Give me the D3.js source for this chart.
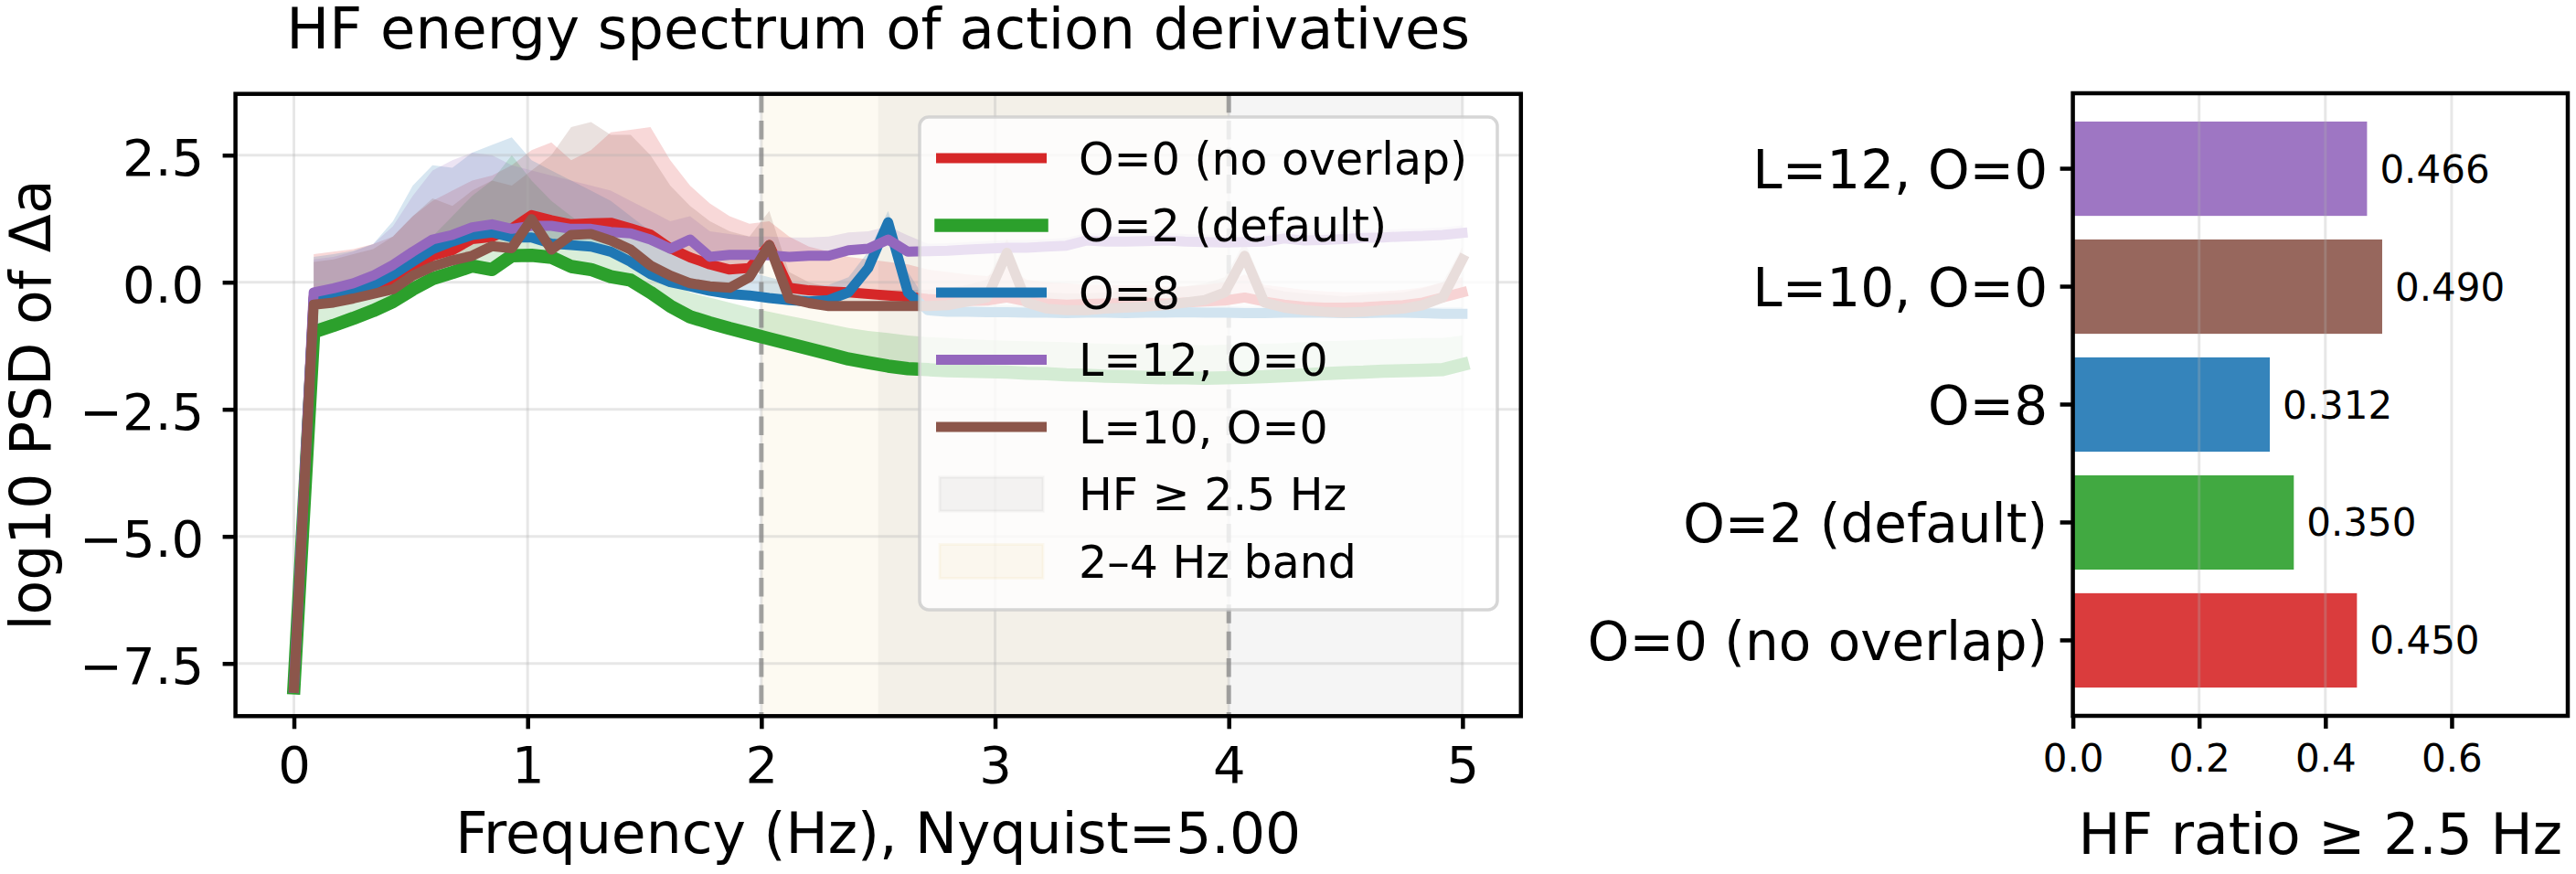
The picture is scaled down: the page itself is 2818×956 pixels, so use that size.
<!DOCTYPE html>
<html><head><meta charset="utf-8">
<script src="https://cdn.jsdelivr.net/npm/d3@7/dist/d3.min.js"></script>
<style>body{margin:0;background:#fff} text{font-family:"DejaVu Sans",sans-serif}</style>
</head><body><svg id="c" width="2818" height="956"></svg>
<script>
// ---------- data ----------
const freqHz = [0, 0.0847, 0.1695, 0.2542, 0.339, 0.4237, 0.5085, 0.5932, 0.678, 0.7627, 0.8475, 0.9322, 1.0169, 1.1017, 1.1864, 1.2712, 1.3559, 1.4407, 1.5254, 1.6102, 1.6949, 1.7797, 1.8644, 1.9492, 2.0339, 2.1186, 2.2034, 2.2881, 2.3729, 2.4576, 2.5424, 2.6271, 2.7119, 2.7966, 2.8814, 2.9661, 3.0508, 3.1356, 3.2203, 3.3051, 3.3898, 3.4746, 3.5593, 3.6441, 3.7288, 3.8136, 3.8983, 3.9831, 4.0678, 4.1525, 4.2373, 4.322, 4.4068, 4.4915, 4.5763, 4.661, 4.7458, 4.8305, 4.9153, 5.0];

const seriesNames = ["O=0 (no overlap)", "O=2 (default)", "O=8", "L=12, O=0", "L=10, O=0"];
const seriesColors = ["#d62728", "#2ca02c", "#1f77b4", "#9467bd", "#8c564b"];

const psdO0 = [-7.98, -0.29, -0.25, -0.17, -0.08, 0.04, 0.28, 0.52, 0.63, 0.85, 0.89, 1.06, 1.32, 1.22, 1.14, 1.16, 1.17, 1.06, 0.94, 0.67, 0.49, 0.35, 0.25, 0.28, 0.73, -0.11, -0.16, -0.18, -0.2, -0.23, -0.26, -0.29, -0.33, -0.35, -0.37, -0.36, -0.3, -0.38, -0.42, -0.44, -0.43, -0.42, -0.41, -0.4, -0.42, -0.4, -0.38, -0.36, -0.3, -0.38, -0.44, -0.48, -0.5, -0.5, -0.49, -0.47, -0.45, -0.4, -0.3, -0.2];
const psdO2 = [-7.98, -0.98, -0.85, -0.71, -0.56, -0.38, -0.14, 0.07, 0.19, 0.32, 0.25, 0.52, 0.53, 0.49, 0.31, 0.25, 0.11, 0.04, -0.2, -0.47, -0.68, -0.8, -0.91, -1.01, -1.11, -1.21, -1.31, -1.41, -1.51, -1.58, -1.65, -1.7, -1.72, -1.74, -1.75, -1.76, -1.77, -1.79, -1.8, -1.82, -1.83, -1.85, -1.86, -1.87, -1.88, -1.88, -1.89, -1.88, -1.87, -1.86, -1.84, -1.82, -1.8, -1.78, -1.77, -1.75, -1.74, -1.73, -1.72, -1.62];
const psdO8 = [-7.98, -0.32, -0.25, -0.17, -0.05, 0.15, 0.4, 0.65, 0.8, 0.93, 0.98, 0.88, 0.88, 0.76, 0.73, 0.7, 0.6, 0.4, 0.16, 0.0, -0.08, -0.17, -0.23, -0.26, -0.31, -0.35, -0.38, -0.35, -0.2, 0.28, 1.18, -0.2, -0.55, -0.58, -0.58, -0.59, -0.59, -0.6, -0.6, -0.61, -0.6, -0.6, -0.61, -0.6, -0.6, -0.59, -0.6, -0.6, -0.61, -0.61, -0.6, -0.6, -0.6, -0.61, -0.61, -0.6, -0.6, -0.61, -0.62, -0.62];
const psdL12 = [-7.98, -0.2, -0.12, -0.02, 0.13, 0.34, 0.6, 0.84, 0.93, 1.08, 1.14, 1.05, 1.11, 1.11, 1.05, 1.05, 0.99, 0.96, 0.84, 0.66, 0.84, 0.5, 0.54, 0.54, 0.53, 0.5, 0.52, 0.52, 0.63, 0.66, 0.84, 0.6, 0.61, 0.62, 0.64, 0.66, 0.68, 0.68, 0.7, 0.72, 0.82, 0.8, 0.8, 0.81, 0.82, 0.8, 0.79, 0.78, 0.79, 0.8, 0.86, 0.82, 0.83, 0.85, 0.87, 0.88, 0.9, 0.91, 0.93, 0.97];
const psdL10 = [-7.98, -0.44, -0.4, -0.32, -0.23, -0.14, 0.13, 0.31, 0.43, 0.52, 0.71, 0.67, 1.24, 0.64, 0.93, 0.95, 0.82, 0.64, 0.33, 0.13, -0.02, -0.08, -0.11, 0.1, 0.73, -0.32, -0.41, -0.47, -0.47, -0.47, -0.47, -0.47, -0.47, -0.45, -0.38, -0.3, 0.58, -0.4, -0.52, -0.55, -0.55, -0.52, -0.5, -0.48, -0.45, -0.4, -0.35, -0.2, 0.52, -0.4, -0.5, -0.55, -0.58, -0.6, -0.58, -0.55, -0.52, -0.45, -0.3, 0.45];

// upper edge of each spread band (first bin has no band)
const hiO0 = [null, 0.55, 0.6, 0.65, 0.75, 0.9, 1.3, 1.6, 1.8, 2.0, 2.1, 2.3, 2.6, 2.75, 2.4, 2.6, 2.95, 3.0, 3.05, 2.4, 1.9, 1.55, 1.3, 1.15, 1.2, 0.9, 0.7, 0.6, 0.5, 0.45, 0.4, 0.35, 0.25, 0.2, 0.15, 0.12, 0.3, 0.05, 0.0, -0.02, -0.05, -0.05, -0.06, -0.05, -0.08, -0.08, -0.05, 0.0, 0.15, -0.05, -0.1, -0.15, -0.18, -0.2, -0.2, -0.18, -0.15, -0.1, 0.0, 0.1];
const hiO2 = [null, -0.45, -0.35, -0.25, -0.1, 0.1, 0.5, 0.9, 1.3, 1.7, 2.0, 2.5, 2.0, 1.6, 1.3, 1.0, 0.8, 0.6, 0.3, 0.0, -0.2, -0.3, -0.4, -0.5, -0.58, -0.66, -0.74, -0.82, -0.9, -0.96, -1.0, -1.05, -1.08, -1.1, -1.12, -1.14, -1.15, -1.16, -1.17, -1.18, -1.2, -1.21, -1.22, -1.22, -1.23, -1.23, -1.24, -1.23, -1.22, -1.21, -1.2, -1.18, -1.16, -1.15, -1.14, -1.12, -1.11, -1.1, -1.1, -1.05];
const hiO8 = [null, 0.5, 0.55, 0.62, 0.75, 1.2, 1.9, 2.3, 2.25, 2.55, 2.7, 2.85, 2.4, 2.2, 2.0, 1.8, 1.6, 1.3, 1.0, 0.7, 0.5, 0.4, 0.3, 0.2, 0.1, 0.0, -0.05, -0.05, 0.1, 0.6, 1.4, 0.2, -0.4, -0.44, -0.45, -0.46, -0.46, -0.47, -0.47, -0.48, -0.47, -0.47, -0.48, -0.47, -0.47, -0.46, -0.47, -0.47, -0.48, -0.48, -0.47, -0.47, -0.47, -0.48, -0.48, -0.47, -0.47, -0.48, -0.49, -0.49];
const hiL12 = [null, 0.45, 0.5, 0.6, 0.75, 1.1, 1.7, 2.2, 2.4, 2.55, 2.5, 2.3, 2.2, 2.1, 2.0, 1.9, 1.8, 1.6, 1.4, 1.2, 1.3, 1.0, 0.95, 0.9, 0.9, 0.88, 0.88, 0.9, 0.98, 1.0, 1.1, 0.92, 0.76, 0.77, 0.79, 0.81, 0.83, 0.83, 0.85, 0.87, 0.97, 0.95, 0.95, 0.96, 0.97, 0.95, 0.94, 0.93, 0.94, 0.95, 1.01, 0.97, 0.98, 1.0, 1.02, 1.03, 1.05, 1.06, 1.08, 1.12];
const hiL10 = [null, 0.4, 0.45, 0.55, 0.65, 0.9, 1.3, 1.65, 1.5, 1.8, 2.0, 1.9, 2.2, 2.5, 3.05, 3.15, 2.9, 2.9, 2.5, 1.9, 1.5, 1.2, 1.0, 0.9, 1.4, 0.2, 0.0, -0.1, -0.15, -0.15, -0.15, -0.15, -0.15, -0.12, -0.05, 0.05, 0.85, -0.1, -0.2, -0.22, -0.22, -0.2, -0.18, -0.15, -0.12, -0.08, -0.02, 0.1, 0.8, -0.1, -0.18, -0.22, -0.25, -0.28, -0.25, -0.22, -0.2, -0.12, 0.0, 0.7];

const spanNames = ["HF \u2265 2.5 Hz", "2\u20134 Hz band"];
const spanRanges = [[2.5, 5.0], [2.0, 4.0]];
const markerLines = [2.0, 4.0];

const xTicksL = [0, 1, 2, 3, 4, 5];
const yTicksL = [2.5, 0.0, -2.5, -5.0, -7.5];

const barLabels = ["O=0 (no overlap)", "O=2 (default)", "O=8", "L=10, O=0", "L=12, O=0"];
const barValues = [0.450, 0.350, 0.312, 0.490, 0.466];
const barColors = ["#d62728", "#2ca02c", "#1f77b4", "#8c564b", "#9467bd"];
const xTicksR = [0.0, 0.2, 0.4, 0.6];

// ---------- drawing ----------
const series = [psdO0, psdO2, psdO8, psdL12, psdL10];
const highs = [hiO0, hiO2, hiO8, hiL12, hiL10];
const lineWidths = [11, 14.5, 11, 11, 11];
const spanStyles = [{c: "#808080", a: 0.08}, {c: "#daa520", a: 0.06}];

const svg = d3.select("#c");
svg.append("rect").attr("width", 2818).attr("height", 956).attr("fill", "#fff");

const minus = s => s.replace("-", "\u2212");

// ===== left panel =====
const L = {x0: 257.6, x1: 1663.8, y0: 102.7, y1: 783.3};
const xL = d3.scaleLinear().domain([-0.25, 5.25]).range([L.x0, L.x1]);
const yL = d3.scaleLinear().domain([-8.536, 3.705]).range([L.y1, L.y0]);

svg.append("defs").append("clipPath").attr("id", "clipL")
  .append("rect").attr("x", L.x0).attr("y", L.y0).attr("width", L.x1 - L.x0).attr("height", L.y1 - L.y0);

const gL = svg.append("g").attr("clip-path", "url(#clipL)");

// spans
spanRanges.forEach((r, k) => {
  gL.append("rect").attr("x", xL(r[0])).attr("y", L.y0)
    .attr("width", xL(r[1]) - xL(r[0])).attr("height", L.y1 - L.y0)
    .attr("fill", spanStyles[k].c).attr("fill-opacity", spanStyles[k].a);
});

// bands
series.forEach((s, k) => {
  const hi = highs[k];
  const area = d3.area()
    .defined((d, i) => hi[i] !== null)
    .x((d, i) => xL(freqHz[i]))
    .y0((d, i) => yL(s[i]))
    .y1((d, i) => yL(hi[i]));
  gL.append("path").datum(s).attr("d", area)
    .attr("fill", seriesColors[k]).attr("fill-opacity", 0.18);
});

// grid
xTicksL.forEach(t => gL.append("line").attr("x1", xL(t)).attr("x2", xL(t)).attr("y1", L.y0).attr("y2", L.y1)
  .attr("stroke", "#b0b0b0").attr("stroke-opacity", 0.3).attr("stroke-width", 3));
yTicksL.forEach(t => gL.append("line").attr("y1", yL(t)).attr("y2", yL(t)).attr("x1", L.x0).attr("x2", L.x1)
  .attr("stroke", "#b0b0b0").attr("stroke-opacity", 0.3).attr("stroke-width", 3));

// dashed markers
markerLines.forEach(v => gL.append("line").attr("x1", xL(v)).attr("x2", xL(v)).attr("y1", L.y0).attr("y2", L.y1)
  .attr("stroke", "#808080").attr("stroke-opacity", 0.7).attr("stroke-width", 5)
  .attr("stroke-dasharray", "20.5 8.9"));

// lines
series.forEach((s, k) => {
  const line = d3.line().x((d, i) => xL(freqHz[i])).y(d => yL(d));
  gL.append("path").datum(s).attr("d", line).attr("fill", "none")
    .attr("stroke", seriesColors[k]).attr("stroke-width", lineWidths[k])
    .attr("stroke-linejoin", "round").attr("stroke-linecap", "square");
});

// axes
function styleAxis(g, fs) {
  g.select(".domain").remove();
  g.attr("font-family", "DejaVu Sans").attr("font-size", fs);
  g.selectAll(".tick line").attr("stroke", "#000").attr("stroke-width", 4.5);
  g.selectAll(".tick text").attr("fill", "#000");
}
const axXL = svg.append("g").attr("transform", `translate(0,${L.y1})`)
  .call(d3.axisBottom(xL).tickValues(xTicksL).tickSize(14).tickPadding(18.5).tickFormat(d3.format("d")));
styleAxis(axXL, 56);
const axYL = svg.append("g").attr("transform", `translate(${L.x0},0)`)
  .call(d3.axisLeft(yL).tickValues(yTicksL).tickSize(14).tickPadding(20.5).tickFormat(d => minus(d3.format(".1f")(d))));
styleAxis(axYL, 56);
axYL.selectAll(".tick text").attr("dy", "0.39em");

svg.append("rect").attr("x", L.x0).attr("y", L.y0).attr("width", L.x1 - L.x0).attr("height", L.y1 - L.y0)
  .attr("fill", "none").attr("stroke", "#000").attr("stroke-width", 4.5);

svg.append("text").attr("x", (L.x0 + L.x1) / 2).attr("y", 53).attr("text-anchor", "middle")
  .attr("font-size", 62.5).text("HF energy spectrum of action derivatives");
svg.append("text").attr("x", (L.x0 + L.x1) / 2).attr("y", 933).attr("text-anchor", "middle")
  .attr("font-size", 61.5).text("Frequency (Hz), Nyquist=5.00");
svg.append("text").attr("transform", `translate(55,${(L.y0 + L.y1) / 2}) rotate(-90)`).attr("text-anchor", "middle")
  .attr("font-size", 61.5).text("log10 PSD of \u0394a");

// legend
const lg = svg.append("g");
lg.append("rect").attr("x", 1006).attr("y", 128).attr("width", 632).attr("height", 539).attr("rx", 10)
  .attr("fill", "#fff").attr("fill-opacity", 0.8).attr("stroke", "#cccccc").attr("stroke-opacity", 0.8).attr("stroke-width", 3.5);
const rowY = k => 173 + k * 73.5;
seriesNames.forEach((n, k) => {
  lg.append("line").attr("x1", 1029.5).attr("x2", 1139.5).attr("y1", rowY(k)).attr("y2", rowY(k))
    .attr("stroke", seriesColors[k]).attr("stroke-width", lineWidths[k]).attr("stroke-linecap", "square");
  lg.append("text").attr("x", 1180).attr("y", rowY(k) + 17.5).attr("font-size", 49).text(n);
});
spanNames.forEach((n, j) => {
  const k = seriesNames.length + j;
  lg.append("rect").attr("x", 1028).attr("y", rowY(k) - 18.5).attr("width", 113).attr("height", 37)
    .attr("fill", spanStyles[j].c).attr("fill-opacity", spanStyles[j].a)
    .attr("stroke", spanStyles[j].c).attr("stroke-opacity", spanStyles[j].a).attr("stroke-width", 3);
  lg.append("text").attr("x", 1180).attr("y", rowY(k) + 17.5).attr("font-size", 49).text(n);
});

// ===== right panel =====
const R = {x0: 2267.6, x1: 2809, y0: 102, y1: 783};
const xR = d3.scaleLinear().domain([0, 0.784]).range([R.x0, R.x1]);
const yR = d3.scaleBand().domain(barLabels).range([R.y1, R.y0]).paddingInner(0.2).paddingOuter(0.24);

const gR = svg.append("g");
gR.selectAll("rect.bar").data(barValues).enter().append("rect")
  .attr("x", xR(0)).attr("y", (d, i) => yR(barLabels[i]))
  .attr("width", d => xR(d) - xR(0)).attr("height", yR.bandwidth())
  .attr("fill", (d, i) => barColors[i]).attr("fill-opacity", 0.9);
xTicksR.forEach(t => gR.append("line").attr("x1", xR(t)).attr("x2", xR(t)).attr("y1", R.y0).attr("y2", R.y1)
  .attr("stroke", "#b0b0b0").attr("stroke-opacity", 0.3).attr("stroke-width", 3));
gR.selectAll("text.val").data(barValues).enter().append("text")
  .attr("x", d => xR(d) + 14).attr("y", (d, i) => yR(barLabels[i]) + yR.bandwidth() / 2 + 15)
  .attr("font-size", 42).text(d => d3.format(".3f")(d));

const axXR = svg.append("g").attr("transform", `translate(0,${R.y1})`)
  .call(d3.axisBottom(xR).tickValues(xTicksR).tickSize(14).tickPadding(17).tickFormat(d3.format(".1f")));
styleAxis(axXR, 42);
const axYR = svg.append("g").attr("transform", `translate(${R.x0},0)`)
  .call(d3.axisLeft(yR).tickSize(14).tickPadding(13.5));
styleAxis(axYR, 58);
axYR.selectAll(".tick text").attr("dy", "0.37em");

svg.append("rect").attr("x", R.x0).attr("y", R.y0).attr("width", R.x1 - R.x0).attr("height", R.y1 - R.y0)
  .attr("fill", "none").attr("stroke", "#000").attr("stroke-width", 4.5);
svg.append("text").attr("x", (R.x0 + R.x1) / 2).attr("y", 934).attr("text-anchor", "middle")
  .attr("font-size", 61.5).text("HF ratio \u2265 2.5 Hz");
</script></body></html>
